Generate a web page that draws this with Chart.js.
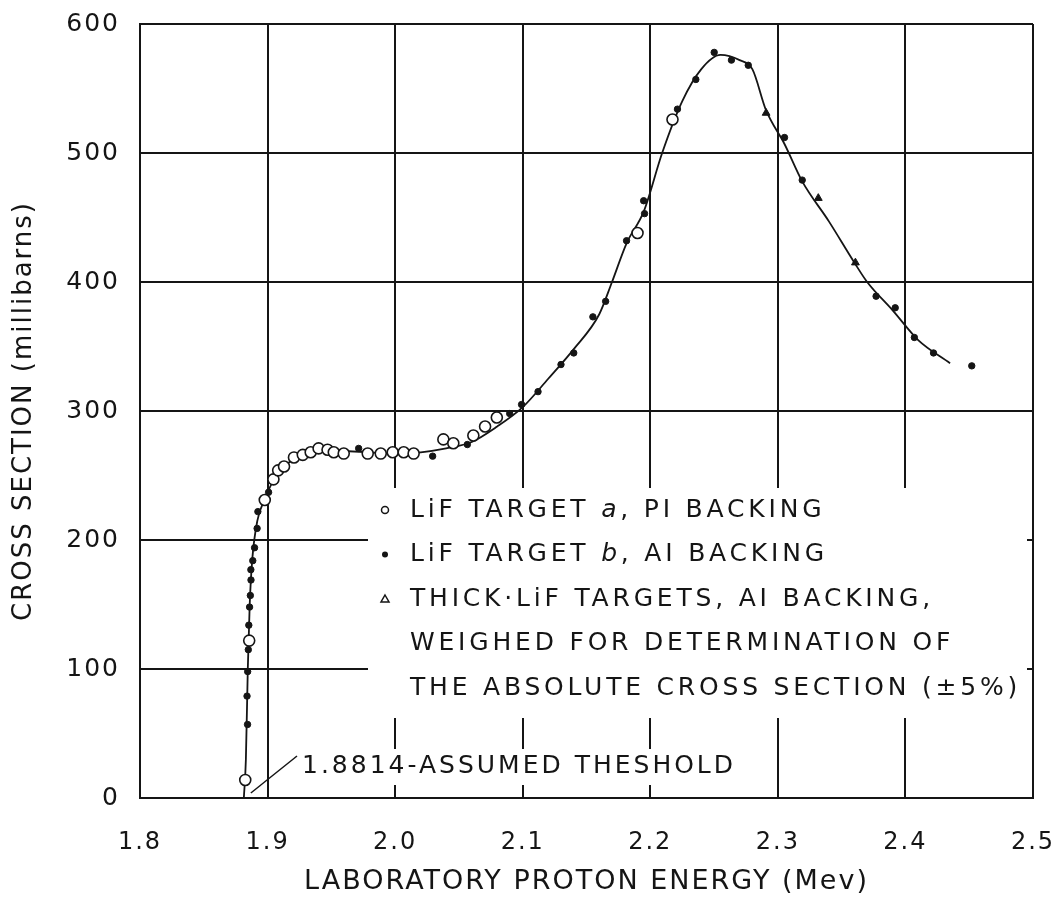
<!DOCTYPE html>
<html>
<head>
<meta charset="utf-8">
<script src="https://cdn.jsdelivr.net/npm/chart.js@4.4.1/dist/chart.umd.min.js"></script>
<style>
  html, body { margin: 0; padding: 0; background: #fff; }
  #wrap { width: 1053px; height: 903px; }
</style>
</head>
<body>
<div id="wrap"><canvas id="xsec" width="1053" height="903"></canvas></div>
<script>
// axis ticks
const X_TICKS = [1.8, 1.9, 2.0, 2.1, 2.2, 2.3, 2.4, 2.5];
const Y_TICKS = [0, 100, 200, 300, 400, 500, 600];
const THRESHOLD = 1.8814;

// drawn curve through the measurements (MeV, mb)
const curveE = [1.8814, 1.8830, 1.8845, 1.8860, 1.8880, 1.8920, 1.8980, 1.9050, 1.9130, 1.9250,
  1.9400, 1.9600, 1.9800, 2.0000, 2.0200, 2.0400, 2.0600, 2.0800, 2.1000, 2.1200,
  2.1400, 2.1600, 2.1700, 2.1814, 2.1950, 2.2093, 2.2250, 2.2400, 2.2550, 2.2700,
  2.2800, 2.2908, 2.3052, 2.3191, 2.3400, 2.3600, 2.3700, 2.3900, 2.4100, 2.4350];
const curveS = [0, 30, 100, 150, 185, 215, 232, 247, 257, 265,
  270, 269, 268, 267, 268, 271, 276, 288, 303, 325,
  348, 375, 400, 430, 455, 500, 540, 565, 576, 572,
  565, 533, 507, 478, 447, 415, 400, 378, 355, 337];

// LiF target a, Pt backing (open circles)
const targetAE = [1.8825, 1.8856, 1.8978, 1.9046, 1.9083, 1.9129, 1.9207, 1.9276, 1.9338, 1.9400,
  1.9470, 1.9519, 1.9597, 1.9785, 1.9887, 1.9981, 2.0067, 2.0145, 2.0378, 2.0456,
  2.0613, 2.0705, 2.0797, 2.1900, 2.2174];
const targetAS = [14, 122, 231, 247, 254, 257, 264, 266, 268, 271,
  270, 268, 267, 267, 267, 268, 268, 267, 278, 275,
  281, 288, 295, 438, 526];

// LiF target b, Al backing (filled dots)
const targetBE = [1.8843, 1.8839, 1.8844, 1.8849, 1.8853, 1.8859, 1.8865, 1.8870, 1.8869, 1.8884,
  1.8898, 1.8918, 1.8924, 1.9008, 1.9714, 2.0294, 2.0566, 2.0898, 2.0991, 2.1120,
  2.1300, 2.1400, 2.1550, 2.1650, 2.1814, 2.1955, 2.1948, 2.2213, 2.2357, 2.2501,
  2.2636, 2.2768, 2.3052, 2.3191, 2.3770, 2.3920, 2.4070, 2.4220, 2.4520];
const targetBS = [57, 79, 98, 115, 134, 148, 157, 169, 177, 184,
  194, 209, 222, 237, 271, 265, 274, 298, 305, 315,
  336, 345, 373, 385, 432, 453, 463, 534, 557, 578,
  572, 568, 512, 479, 389, 380, 357, 345, 335];

// thick LiF targets, Al backing (triangles)
const thickE = [2.2908, 2.3317, 2.3608];
const thickS = [531, 465, 415];

const INK = '#151515';
const FONT = 'DejaVu Sans';

const pts = (xs, ys) => xs.map((v, i) => ({ x: v, y: ys[i] }));

// key text and the threshold note, drawn under the data
const keyRows = [
  { mark: 'open', parts: [['LiF TARGET ', ''], ['a', 'italic '], [', PI BACKING', '']] },
  { mark: 'dot', parts: [['LiF TARGET ', ''], ['b', 'italic '], [', AI BACKING', '']] },
  { mark: 'tri', parts: [['THICK·LiF TARGETS, AI BACKING,', '']] },
  { mark: null, parts: [['WEIGHED FOR DETERMINATION OF', '']] },
  { mark: null, parts: [['THE ABSOLUTE CROSS SECTION (±5%)', '']] }
];

const notes = {
  id: 'notes',
  beforeInit(chart) { chart.ctx.letterSpacing = '2px'; },
  beforeDraw(chart) { chart.ctx.letterSpacing = '2px'; },
  beforeDatasetsDraw(chart) {
    const { ctx, chartArea, scales: { x, y } } = chart;
    ctx.save();
    // blank the grid behind the key and the note
    ctx.fillStyle = '#fff';
    ctx.fillRect(368, 488, chartArea.right - 6 - 368, 230);
    ctx.fillRect(298, 749, 462, 36);

    ctx.fillStyle = INK;
    ctx.strokeStyle = INK;
    ctx.textBaseline = 'middle';
    ctx.letterSpacing = '3.8px';
    let rowY = 510;
    keyRows.forEach(row => {
      if (row.mark === 'open') {
        ctx.lineWidth = 1.5;
        ctx.beginPath(); ctx.arc(385, rowY, 3.5, 0, Math.PI * 2); ctx.stroke();
      } else if (row.mark === 'dot') {
        ctx.beginPath(); ctx.arc(385, rowY, 3, 0, Math.PI * 2); ctx.fill();
      } else if (row.mark === 'tri') {
        ctx.lineWidth = 1.5;
        ctx.beginPath(); ctx.moveTo(385, rowY - 4); ctx.lineTo(389, rowY + 3); ctx.lineTo(381, rowY + 3);
        ctx.closePath(); ctx.stroke();
      }
      let tx = 410;
      row.parts.forEach(([txt, style]) => {
        ctx.font = style + '25px "' + FONT + '"';
        ctx.fillText(txt, tx, rowY);
        tx += ctx.measureText(txt).width;
      });
      rowY += 44.5;
    });

    // threshold note with its pointer
    ctx.letterSpacing = '3px';
    ctx.font = '25px "' + FONT + '"';
    ctx.fillText(THRESHOLD.toFixed(4) + '-ASSUMED THESHOLD', 302, 766);
    const px = x.getPixelForValue(THRESHOLD);
    const py = y.getPixelForValue(0);
    ctx.lineWidth = 1.5;
    ctx.beginPath();
    ctx.moveTo(297, 756);
    ctx.lineTo(px + 7, py - 5);
    ctx.stroke();
    ctx.restore();
  }
};

new Chart(document.getElementById('xsec'), {
  type: 'scatter',
  data: {
    datasets: [
      {
        label: 'LiF target a, Pt backing',
        data: pts(targetAE, targetAS),
        pointStyle: 'circle',
        pointRadius: 5.5,
        pointBackgroundColor: '#fff',
        pointBorderColor: INK,
        pointBorderWidth: 1.6,
        order: 1
      },
      {
        label: 'LiF target b, Al backing',
        data: pts(targetBE, targetBS),
        pointStyle: 'circle',
        pointRadius: 3.2,
        pointBackgroundColor: INK,
        pointBorderColor: INK,
        pointBorderWidth: 1,
        order: 0
      },
      {
        label: 'Thick LiF targets, Al backing',
        data: pts(thickE, thickS),
        pointStyle: 'triangle',
        pointRadius: 4.5,
        pointBackgroundColor: INK,
        pointBorderColor: INK,
        pointBorderWidth: 1,
        order: 0
      },
      {
        type: 'line',
        label: 'curve',
        data: pts(curveE, curveS),
        borderColor: INK,
        borderWidth: 1.8,
        pointRadius: 0,
        cubicInterpolationMode: 'monotone',
        fill: false,
        order: 5
      }
    ]
  },
  options: {
    responsive: false,
    animation: false,
    events: [],
    layout: { padding: { left: 0, right: 20, top: 24, bottom: 0 } },
    plugins: { legend: { display: false }, tooltip: { enabled: false } },
    scales: {
      x: {
        type: 'linear',
        min: 1.8,
        max: 2.5,
        afterBuildTicks: s => { s.ticks = X_TICKS.map(v => ({ value: v })); },
        afterFit: s => { s.height = 105; s.paddingLeft = 0; s.paddingRight = 0; },
        grid: { color: INK, lineWidth: 2, drawTicks: false },
        border: { color: INK, width: 2 },
        ticks: {
          color: INK,
          padding: 30,
          maxRotation: 0,
          font: { family: FONT, size: 24 },
          callback: v => v.toFixed(1)
        },
        title: {
          display: true,
          text: 'LABORATORY PROTON ENERGY (Mev)',
          color: INK,
          font: { family: FONT, size: 27 },
          padding: { top: 0, bottom: 5 }
        }
      },
      y: {
        type: 'linear',
        min: 0,
        max: 600,
        afterBuildTicks: s => { s.ticks = Y_TICKS.map(v => ({ value: v })); },
        afterFit: s => { s.width = 140; s.paddingTop = 0; s.paddingBottom = 0; },
        grid: { color: INK, lineWidth: 2, drawTicks: false },
        border: { color: INK, width: 2 },
        ticks: {
          color: INK,
          padding: 20,
          font: { family: FONT, size: 25 }
        },
        title: {
          display: true,
          text: 'CROSS SECTION (millibarns)',
          color: INK,
          font: { family: FONT, size: 26 },
          padding: { top: 9, bottom: 0 }
        }
      }
    }
  },
  plugins: [notes]
});
</script>
</body>
</html>
